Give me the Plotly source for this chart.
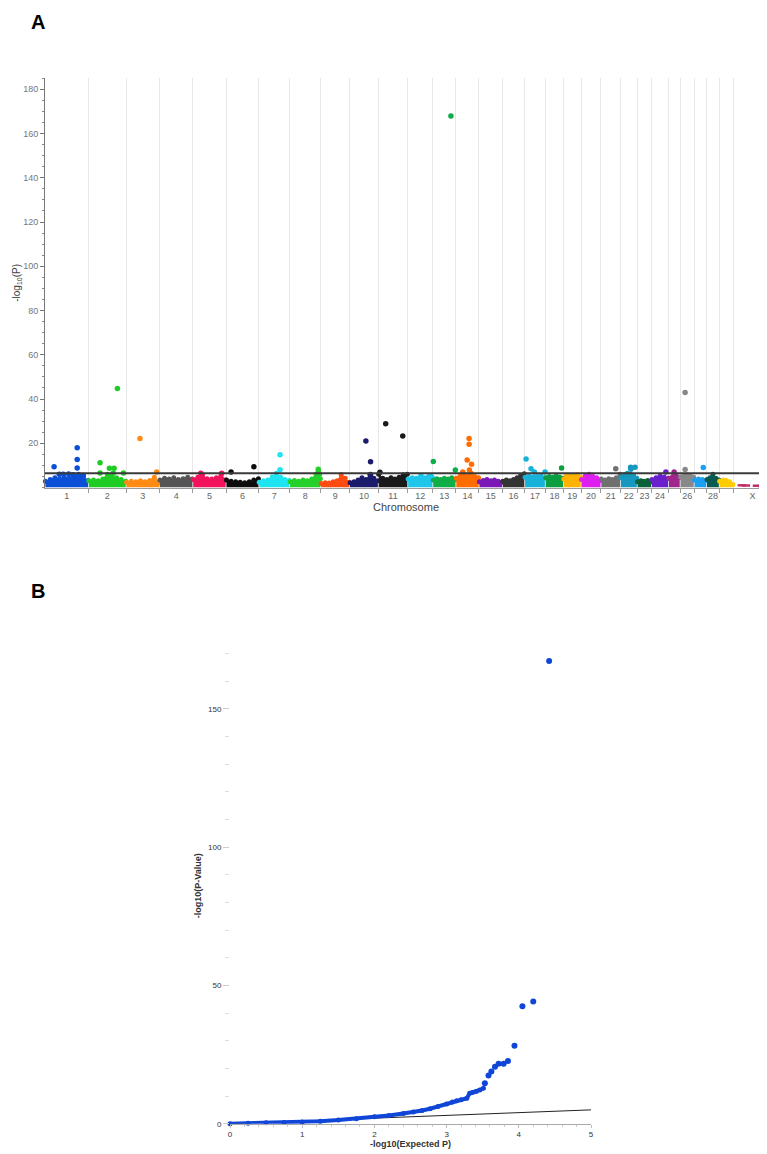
import numpy as np
import plotly.graph_objects as go

# ---------------- DATA ----------------
chrom_names = [str(i) for i in range(1, 30)] + ["X"]
chrom_len_mb = [158, 137, 121, 121, 121, 119, 112, 113, 105, 104, 107, 91, 84, 84, 85,
                81, 75, 66, 64, 72, 71, 61, 52, 62, 42, 51, 45, 46, 51, 139]
chrom_tick_labels = [str(i) for i in range(1, 25)] + ["", "26", "", "28", "", "X"]
chrom_colors = ["#0b4fd6", "#1fcc24", "#ff8a14", "#555555", "#f2135c", "#0d0d0d",
                "#1ee4f2", "#24d02a", "#ff4b12", "#1b1a6b", "#1a1a1a", "#1dc6ea",
                "#0fae48", "#ff6c00", "#7a18b8", "#333333", "#17b2da", "#0e9e42",
                "#ffb300", "#df1ff2", "#707070", "#1698be", "#0a6238", "#6a1fcc",
                "#a0268c", "#888888", "#1a9ff2", "#0a5a4f", "#ffcc00", "#c2306c"]

# approximate top edge of the dense mass of SNPs per chromosome (-log10 P)
mass_profiles = [
    [2.8, 3.6, 4.4, 3.9, 4.5, 4.2, 5.2, 6.0, 4.6, 3.2],
    [3.0, 3.4, 3.0, 3.8, 6.0, 5.2, 4.4, 3.6, 2.8],
    [2.4, 2.8, 2.6, 3.0, 2.6, 3.2, 4.6, 2.2],
    [3.4, 4.2, 3.8, 4.4, 3.6, 4.0, 4.6, 3.8],
    [3.6, 4.6, 5.6, 4.0, 3.8, 4.4, 5.8, 3.4],
    [3.4, 2.8, 2.6, 2.4, 2.2, 2.6, 3.4, 4.0],
    [2.4, 3.0, 3.4, 4.8, 6.4, 4.6, 3.6, 3.2],
    [2.6, 3.2, 2.8, 3.4, 3.0, 3.8, 6.0, 4.0],
    [1.8, 2.2, 2.0, 2.6, 3.0, 5.8, 4.2, 2.4],
    [2.2, 2.6, 3.4, 4.4, 3.6, 5.8, 4.2, 3.0],
    [6.0, 4.2, 3.6, 4.4, 3.8, 4.6, 5.8, 6.0],
    [3.8, 4.4, 4.2, 4.8, 4.4, 5.0, 4.6],
    [3.4, 4.0, 3.6, 4.2, 3.8, 4.4, 3.6],
    [4.2, 5.2, 6.2, 5.6, 6.4, 5.0, 4.4],
    [2.6, 3.2, 3.6, 3.0, 3.4, 2.8, 2.4],
    [2.8, 3.4, 3.0, 3.6, 4.4, 5.4, 6.2],
    [4.6, 5.2, 4.8, 5.0, 5.4, 4.4],
    [4.4, 5.0, 4.6, 5.2, 4.8, 4.2],
    [3.8, 4.8, 5.4, 5.0, 5.8, 4.6],
    [3.6, 5.2, 6.0, 5.0, 4.4, 3.2],
    [3.8, 3.4, 4.0, 3.6, 4.4, 6.0],
    [4.4, 5.8, 6.4, 6.0, 5.4, 4.2],
    [2.6, 3.0, 2.8, 3.2, 2.6],
    [3.6, 4.4, 5.2, 4.8, 4.2],
    [4.2, 5.0, 5.4, 4.6],
    [4.8, 5.4, 5.6, 5.2, 4.6],
    [3.4, 3.8, 3.6, 3.2],
    [3.6, 4.4, 6.0, 4.2, 3.4],
    [2.8, 3.4, 3.2, 2.6, 1.4],
    [],
]

# individually visible SNPs: chromosome index (0-based), position within chromosome (Mb), -log10 P
hit_chrom = [0, 0, 0, 0, 0, 0, 0, 0, 0,
             1, 1, 1, 1, 1, 1, 1,
             2, 2, 4, 4, 5, 5, 6, 6, 7, 7, 7,
             9, 9, 9, 10, 10, 10, 11, 11,
             12, 12, 12, 13, 13, 13, 13, 13, 13,
             16, 16, 16, 16, 17, 18, 20, 21, 21, 21,
             23, 24, 25, 25, 26,
             29, 29, 29, 29, 29]
hit_pos = [33, 117, 117, 117, 52, 66, 86, 102, 139,
           42, 42, 76, 93, 127, 105, 90,
           50, 111, 29, 105, 18, 101, 77, 77, 104, 104, 108,
           59, 76, 76, 27, 89, 6, 48, 83,
           2, 82, 66, 48, 48, 41, 57, 49, 25,
           5, 23, 35, 74, 59, 12, 54, 37, 53, 38,
           52, 20, 18, 18, 33,
           31, 46, 86, 104, 119]
hit_val = [9.4, 18.0, 12.7, 8.8, 6.0, 6.0, 6.1, 5.8, 5.4,
           11.2, 6.6, 8.7, 8.7, 6.6, 44.8, 6.6,
           22.1, 7.0, 6.4, 6.4, 7.0, 9.4, 14.8, 8.0, 8.2, 7.0, 6.0,
           21.0, 11.6, 5.9, 28.8, 23.3, 6.9, 5.3, 5.3,
           11.8, 7.9, 167.9, 22.1, 19.5, 12.4, 10.5, 7.9, 7.0,
           12.9, 8.5, 7.0, 7.0, 8.8, 5.2, 8.5, 9.1, 9.1, 8.2,
           7.0, 7.0, 42.9, 8.1, 9.0,
           1.0, 0.9, 0.8, 0.7, 0.9]

significance_threshold = 6.4

# QQ plot
qq_expected = [0.0, 0.25, 0.5, 0.75, 1.0, 1.25, 1.5, 1.75, 2.0, 2.2, 2.4, 2.54, 2.66,
               2.77, 2.88, 3.0, 3.08, 3.14, 3.2, 3.28, 3.32, 3.36, 3.41, 3.46, 3.51]
qq_observed = [0.0, 0.15, 0.3, 0.45, 0.6, 0.9, 1.3, 1.8, 2.5, 3.0, 3.7, 4.2, 4.8,
               5.4, 6.2, 7.1, 7.8, 8.3, 8.7, 9.2, 11.0, 11.3, 11.6, 12.2, 12.8]
qq_top_expected = [3.53, 3.58, 3.62, 3.67, 3.72, 3.79, 3.85, 3.94, 4.05, 4.20, 4.42]
qq_top_observed = [14.6, 17.4, 18.9, 20.6, 21.7, 21.7, 22.7, 28.2, 42.5, 44.2, 167.3]
null_line_x = [0, 5]
null_line_y = [0, 5]

# ---------------- FIGURE ----------------
# the page body adds an 8px margin, so the figure is sized/positioned in page pixels minus 8
OFF = 8
W, H = 767 - OFF, 1154 - OFF


def px_x(p):
    return (p - OFF) / W


def px_y(p):
    return (H - (p - OFF)) / H


starts = np.concatenate([[0], np.cumsum(chrom_len_mb)[:-1]])
ends = starts + np.array(chrom_len_mb)
centers = (starts + ends) / 2.0

fig = go.Figure()

# dense SNP mass per chromosome
for i, prof in enumerate(mass_profiles):
    if not prof:
        continue
    xs = np.linspace(starts[i] + 1.5, ends[i] - 1.5, len(prof))
    fig.add_trace(go.Scatter(
        x=xs, y=prof, mode="lines+markers", fill="tozeroy",
        fillcolor=chrom_colors[i],
        line=dict(color=chrom_colors[i], width=1, shape="spline", smoothing=0.6),
        marker=dict(size=5, color=chrom_colors[i], opacity=1),
        xaxis="x", yaxis="y", hoverinfo="skip", cliponaxis=False))

# individual SNPs
hx = [starts[c] + p for c, p in zip(hit_chrom, hit_pos)]
hc = [chrom_colors[c] for c in hit_chrom]
is_x = [c == 29 for c in hit_chrom]
fig.add_trace(go.Scatter(x=[v for v, f in zip(hx, is_x) if not f],
                         y=[v for v, f in zip(hit_val, is_x) if not f],
                         mode="markers",
                         marker=dict(size=5.5, opacity=1,
                                     color=[v for v, f in zip(hc, is_x) if not f],
                                     line=dict(width=0)),
                         xaxis="x", yaxis="y", hoverinfo="skip"))
fig.add_trace(go.Scatter(x=[v for v, f in zip(hx, is_x) if f],
                         y=[v for v, f in zip(hit_val, is_x) if f],
                         mode="markers",
                         marker=dict(size=6, opacity=1, symbol="line-ew-open",
                                     color=chrom_colors[29],
                                     line=dict(width=2.5, color=chrom_colors[29])),
                         xaxis="x", yaxis="y", hoverinfo="skip", cliponaxis=False))

# QQ plot
fig.add_trace(go.Scatter(x=null_line_x, y=null_line_y, mode="lines",
                         line=dict(color="#222222", width=1),
                         xaxis="x2", yaxis="y2", hoverinfo="skip"))
fig.add_trace(go.Scatter(x=qq_expected, y=qq_observed, mode="lines+markers",
                         line=dict(color="#1046d8", width=4),
                         marker=dict(size=5, color="#1046d8", opacity=1),
                         xaxis="x2", yaxis="y2", hoverinfo="skip", cliponaxis=False))
fig.add_trace(go.Scatter(x=qq_top_expected, y=qq_top_observed, mode="markers",
                         marker=dict(size=6, color="#1046d8", opacity=1),
                         xaxis="x2", yaxis="y2", hoverinfo="skip", cliponaxis=False))

# geometry (page pixels)
a_left, a_right = 45, 767
a_top, a_bottom = 78.2, 487.5
x_total = (a_right - a_left) / 0.2752
b_left, b_right = 230, 591
b_top, b_bottom = 647.9, 1123.7

font_a = "Liberation Sans, Arial, sans-serif"

fig.update_layout(
    width=W, height=H, margin=dict(l=0, r=0, t=0, b=0),
    paper_bgcolor="white", plot_bgcolor="white", showlegend=False,
    xaxis=dict(domain=[px_x(a_left), 1.0], range=[0, x_total],
               anchor="y", automargin=False,
               tickmode="array", tickvals=list(centers), ticktext=chrom_tick_labels,
               ticks="", showgrid=False, zeroline=False,
               showline=True, linecolor="#9a9a9a", linewidth=1,
               tickfont=dict(family=font_a, size=9, color="#666666"),
               title=dict(text="Chromosome", standoff=2,
                          font=dict(family=font_a, size=11, color="#444444")),
               minor=dict(tickmode="array", tickvals=list(ends[:-1]), ticks="outside",
                          ticklen=4, tickcolor="#9a9a9a", showgrid=True,
                          gridcolor="#e8e8e8", gridwidth=1)),
    yaxis=dict(domain=[px_y(a_bottom), px_y(a_top)], range=[0, 185],
               anchor="x", automargin=False,
               tickmode="array", tickvals=[20, 40, 60, 80, 100, 120, 140, 160, 180],
               ticks="outside", ticklen=4, tickcolor="#777777",
               showgrid=False, zeroline=False,
               showline=True, linecolor="#777777", linewidth=1,
               tickfont=dict(family=font_a, size=9, color="#777777"),
               title=dict(text="-log<sub>10</sub>(P)", standoff=0,
                          font=dict(family=font_a, size=10, color="#444444")),
               minor=dict(dtick=5, ticks="outside", ticklen=2, tickcolor="#888888",
                          showgrid=False)),
    xaxis2=dict(domain=[px_x(b_left), px_x(b_right)], range=[0, 5], anchor="y2",
                automargin=False, tickvals=[0, 1, 2, 3, 4, 5],
                ticks="outside", ticklen=3, tickcolor="#bbbbbb",
                showgrid=False, zeroline=False,
                showline=True, linecolor="#aaaaaa", linewidth=1,
                tickfont=dict(family=font_a, size=8, color="#333333"),
                title=dict(text="<b>-log10(Expected P)</b>", standoff=1,
                           font=dict(family=font_a, size=9, color="#333333")),
                minor=dict(dtick=0.2, ticks="outside", ticklen=2, tickcolor="#cccccc")),
    yaxis2=dict(domain=[px_y(b_bottom), px_y(b_top)], range=[0, 172],
                anchor="x2", automargin=False, tickvals=[0, 50, 100, 150],
                ticks="outside", ticklen=6, tickcolor="#cccccc",
                showgrid=False, zeroline=False, showline=False,
                tickfont=dict(family=font_a, size=8, color="#333333"),
                title=dict(text="<b>-log10(P-Value)</b>", standoff=4,
                           font=dict(family=font_a, size=9, color="#333333")),
                minor=dict(dtick=10, ticks="outside", ticklen=4, tickcolor="#dddddd")),
    shapes=[dict(type="line", xref="x", yref="y", x0=0, x1=x_total,
                 y0=significance_threshold, y1=significance_threshold,
                 line=dict(color="#3a3a3a", width=2), layer="above")],
    annotations=[
        dict(text="<b>A</b>", xref="paper", yref="paper", x=px_x(38), y=px_y(22),
             xanchor="center", yanchor="middle", showarrow=False,
             font=dict(family="Liberation Sans, Arial", size=20, color="black")),
        dict(text="<b>B</b>", xref="paper", yref="paper", x=px_x(38), y=px_y(591),
             xanchor="center", yanchor="middle", showarrow=False,
             font=dict(family="Liberation Sans, Arial", size=20, color="black")),
    ],
)

fig.write_html("out.html")
